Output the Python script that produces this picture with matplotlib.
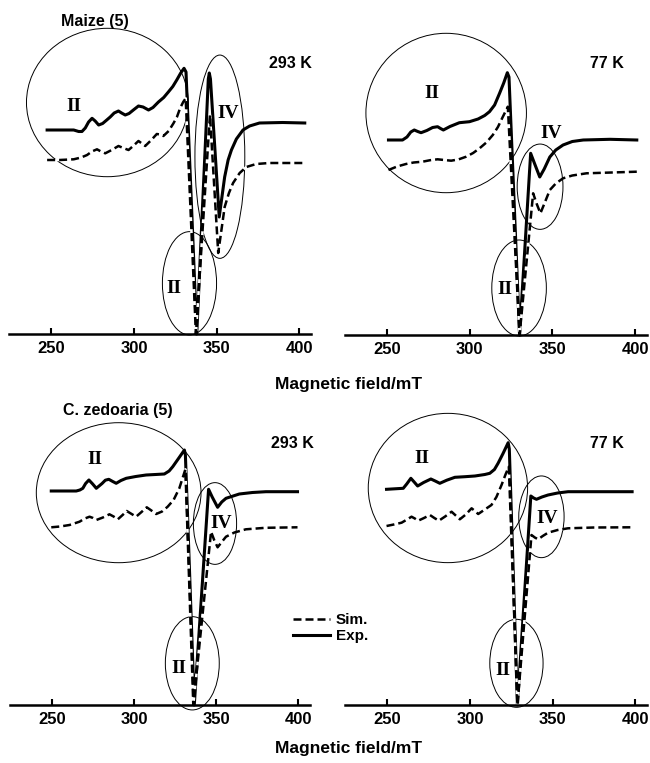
import matplotlib
matplotlib.use("Agg")
import matplotlib.pyplot as plt
from matplotlib.patches import Ellipse

plt.rcParams['font.family'] = ['Liberation Sans', 'DejaVu Sans']
plt.rcParams['font.weight'] = 'bold'

# --- Daten (Magnetfeld in mT, Intensität in a.u.) ---
maize293_B_exp = [247.4, 255, 263.5, 266.5, 268.5, 270.5, 272.5, 274.6, 276.5, 278.6, 281, 283.5,
                  285.6, 288, 290.6, 292.5, 294.7, 297, 300, 302.7, 305.5, 308.8, 311.5, 314.8,
                  318, 320.8, 323.5, 325.9, 328.3, 330.3, 331.5, 338.0, 345.0, 345.6, 346.3,
                  351.6, 354.9, 357, 359.0, 362, 366.0, 370, 376.0, 390, 403.4]
maize293_exp = [204, 204, 204, 202.5, 202.5, 206, 212, 215.7, 213, 209, 210.5, 214,
                217, 221, 223, 221, 219, 220.5, 224.5, 228, 227, 224, 226.5, 232,
                236.5, 242, 247.5, 254, 261, 265.7, 262, 0, 255, 261, 255,
                117, 157, 174, 184, 195, 204, 208, 211, 211.5, 211]
maize293_B_sim = [247.4, 255, 263.5, 268, 271.6, 274.5, 277.6, 280, 282.6, 286.5, 290.6, 293.5,
                  296.7, 299.5, 302.7, 304.8, 306.8, 310.5, 313.8, 315.8, 317.8, 321, 323.9,
                  326, 327.9, 329.8, 331.3, 337.5, 346.0, 351.0, 354.9, 357.5, 360.0, 364,
                  368.0, 374, 382.0, 402.0]
maize293_sim = [174, 174, 174.7, 176.5, 179, 182.5, 184.7, 182.5, 180.7, 184, 188, 186,
                184, 188, 193, 190.5, 188, 194, 200, 199.5, 198, 203, 210.7,
                217, 225.7, 232, 235.7, 0, 219, 81, 127, 141, 151, 161,
                167, 170, 171, 171]

maize77_B_exp = [250.8, 259.3, 262, 264.3, 266.4, 268.5, 270.5, 274, 277.5, 280.5, 282.3, 284.0,
                 288, 293.7, 299.8, 305, 309, 311.9, 315, 318.0, 320.5, 322.7, 323.7,
                 330.1, 336.8, 339.5, 342.3, 345, 348.4, 352, 356.4, 362, 368.6, 384.8, 401.0]
maize77_exp = [195, 195, 198, 203, 205, 203.5, 202.3, 204.5, 207.5, 208.3, 206.5, 205,
               208.5, 212.3, 213.3, 216, 219.5, 223.3, 230, 241.7, 252, 262.3, 258,
               0, 181.7, 170, 158, 166, 178, 185, 190, 193.5, 195, 195.7, 195]
maize77_B_sim = [250.8, 256, 261.4, 266, 271.4, 276, 280.5, 284.5, 288.7, 293, 297.8, 302,
                 305.9, 310, 313.9, 317, 320.0, 323.0, 330.1, 338.3, 340.5, 342.7, 345.5,
                 348.4, 352, 356.4, 362, 370.6, 401.0]
maize77_sim = [165, 168.5, 171, 172.5, 173.3, 174.8, 175.7, 175, 174.3, 175.5, 178.3, 182,
               186.7, 192.5, 200, 208, 218.3, 228.3, 0, 141.7, 131, 121.7, 133,
               145, 151.5, 156.7, 159.5, 161.7, 163.3]

zedo293_B_exp = [249.6, 257, 264.8, 267, 268.8, 270.5, 272.5, 274.8, 277.0, 280.5, 282.5, 284.6,
                 287, 289.1, 292, 295.2, 301, 307.3, 313, 318.4, 321.3, 323.5, 327, 330.6,
                 331.2, 336.6, 345.3, 347.5, 350.8, 353.3, 355.9, 364.0, 372, 380.2, 399.4]
zedo293_exp = [214, 214, 214, 215, 216.7, 221.5, 225, 221, 216.7, 221.5, 224.8, 225.7,
               223.5, 221.7, 224.5, 226.7, 228.5, 230, 230.5, 231, 234, 238.3, 246.5, 255,
               250, 0, 215.7, 208, 197.7, 203, 206.7, 211, 212.5, 213.3, 213.3]
zedo293_B_sim = [249.6, 255, 260.7, 266.8, 270, 272.9, 275, 277.0, 281, 285.0, 287.5, 290.1,
                 293, 295.5, 298.5, 301.2, 304.5, 307.7, 310.5, 313.4, 317, 320.4, 324,
                 327.5, 329.5, 331.2, 336.0, 346.8, 348.7, 350.8, 353.3, 355.9, 361, 368.0,
                 380, 399.4]
zedo293_sim = [177.7, 178.5, 180, 183.3, 186.5, 188.3, 187, 185, 187.5, 190.7, 188.5, 185.7,
               190, 194, 191, 188.3, 193, 197.7, 194.5, 191, 193.5, 198.3, 205,
               216.7, 227, 235.7, 0, 173.3, 165, 157.7, 163, 168.3, 172.5, 175.7,
               177.2, 177.7]

zedo77_B_exp = [249.6, 259.7, 261.8, 264.3, 266.3, 268.4, 272, 276.4, 279, 281.8, 286, 290.9,
                297, 303.0, 309, 312.0, 314.8, 317.0, 320, 323.1, 323.8, 328.7, 336.8,
                338.5, 340.2, 343.5, 347.2, 353, 359.3, 398.0]
zedo77_exp = [215.7, 216.7, 221, 226.7, 223, 219, 222.5, 226, 224, 221.7, 224.8, 227.7,
              228.3, 229, 230.5, 231.7, 235.5, 241.7, 251.5, 262.3, 256, 0, 209,
              207, 205.7, 208, 210, 212, 213.3, 213.3]
zedo77_B_sim = [249.6, 254, 258.7, 262, 264.7, 266.7, 268.7, 272, 275.8, 278.5, 281.2, 285,
                288.9, 291.4, 293.9, 297.5, 301.0, 303, 305.0, 309, 313.0, 316, 319.1,
                321.5, 323.5, 328.7, 337.2, 339.2, 341.2, 344, 347.2, 353, 359.3, 375, 397.6]
zedo77_sim = [179, 180.5, 182.3, 185.5, 188.3, 186.5, 184.3, 186.8, 190, 187, 184.3, 188.5,
              193.3, 189.5, 185.7, 190.5, 196.7, 194, 191, 195.5, 200, 208, 220,
              230.5, 238.3, 0, 170, 167.5, 165.7, 169, 172.3, 175, 176.7, 177.5, 177.7]

ticks = [250, 300, 350, 400]

W, H = 650, 763
fig = plt.figure(figsize=(W / 100, H / 100), dpi=100)


def panel(left, right, base, B_exp, I_exp, B_sim, I_sim, ellipses, labels):
    ax = fig.add_axes([left / W, (H - base) / H, (right - left) / W, 320 / H])
    ax.set_xlim(224.5, 407)
    ax.set_ylim(0, 320)
    for s in ['left', 'right', 'top']:
        ax.spines[s].set_visible(False)
    ax.spines['bottom'].set_linewidth(1.8)
    ax.set_yticks([])
    ax.set_xticks(ticks)
    ax.tick_params(axis='x', direction='in', length=4, width=1.5, pad=5, labelsize=12)
    for e in ellipses:
        ax.add_patch(Ellipse(e[:2], e[2], e[3], fill=False, lw=0.7, ec='black', clip_on=False))
    exp_line, = ax.plot(B_exp, I_exp, color='black', lw=2.2, clip_on=False,
                        solid_joinstyle='round')
    sim_line, = ax.plot(B_sim, I_sim, color='black', lw=1.8, clip_on=False, gapcolor='white',
                        dash_joinstyle='round')
    sim_line.set_dashes([3.2, 1.6])
    for x, y, t in labels:
        ax.text(x, y, t, family=['Liberation Serif', 'DejaVu Serif'], weight='bold',
                fontsize=14, ha='center', va='center')
    return sim_line, exp_line


panel(9.3, 310.7, 334, maize293_B_exp, maize293_exp, maize293_B_sim, maize293_sim,
      [(283.9, 231.5, 98, 148.4), (352, 177.3, 30.2, 203.3), (333.6, 50.7, 32.8, 103.3)],
      [(263.5, 227.3, 'II'), (357, 220.7, 'IV'), (324.3, 45.7, 'II')])
panel(345, 646.7, 335, maize77_B_exp, maize77_exp, maize77_B_sim, maize77_sim,
      [(285.7, 222, 97.1, 159.4), (342.5, 148.3, 27.7, 85.3), (329.8, 47, 33, 96)],
      [(277.1, 241.7, 'II'), (349.4, 201.7, 'IV'), (321, 45, 'II')])
sim, exp = panel(10, 310, 705, zedo293_B_exp, zedo293_exp, zedo293_B_sim, zedo293_sim,
                 [(290.6, 212.3, 100.2, 140), (349.2, 181.5, 26.3, 81.7), (335.4, 41.7, 32.8, 93.3)],
                 [(275.9, 245.7, 'II'), (352.8, 181.7, 'IV'), (327.5, 36.7, 'II')])
panel(345, 647, 705, zedo77_B_exp, zedo77_exp, zedo77_B_sim, zedo77_sim,
      [(286.7, 217, 96.3, 149.3), (343.2, 188.2, 27.4, 81.7), (328.1, 41.7, 32.2, 88)],
      [(270.8, 246.7, 'II'), (346.9, 186.7, 'IV'), (319.7, 34.3, 'II')])


def ftext(x, y, s, size=11.5):
    fig.text(x / W, 1 - y / H, s, ha='center', va='center', fontsize=size, weight='bold')


ftext(95.3, 21.7, 'Maize (5)')
ftext(290.8, 63.3, '293 K')
ftext(606.7, 63.3, '77 K')
ftext(117.5, 410, 'C. zedoaria (5)')
ftext(292.5, 443.3, '293 K')
ftext(606.7, 443.3, '77 K')
ftext(349, 385, 'Magnetic field/mT', 12.5)
ftext(349, 749, 'Magnetic field/mT', 12.5)

fig.legend([sim, exp], ['Sim.', 'Exp.'], loc='upper left', bbox_to_anchor=(293 / W, 1 - 613 / H),
           frameon=False, borderpad=0, borderaxespad=0, handlelength=2.4, handletextpad=0.4,
           labelspacing=0.15, prop={'weight': 'bold', 'size': 11})

plt.savefig('out.png', dpi=100)
